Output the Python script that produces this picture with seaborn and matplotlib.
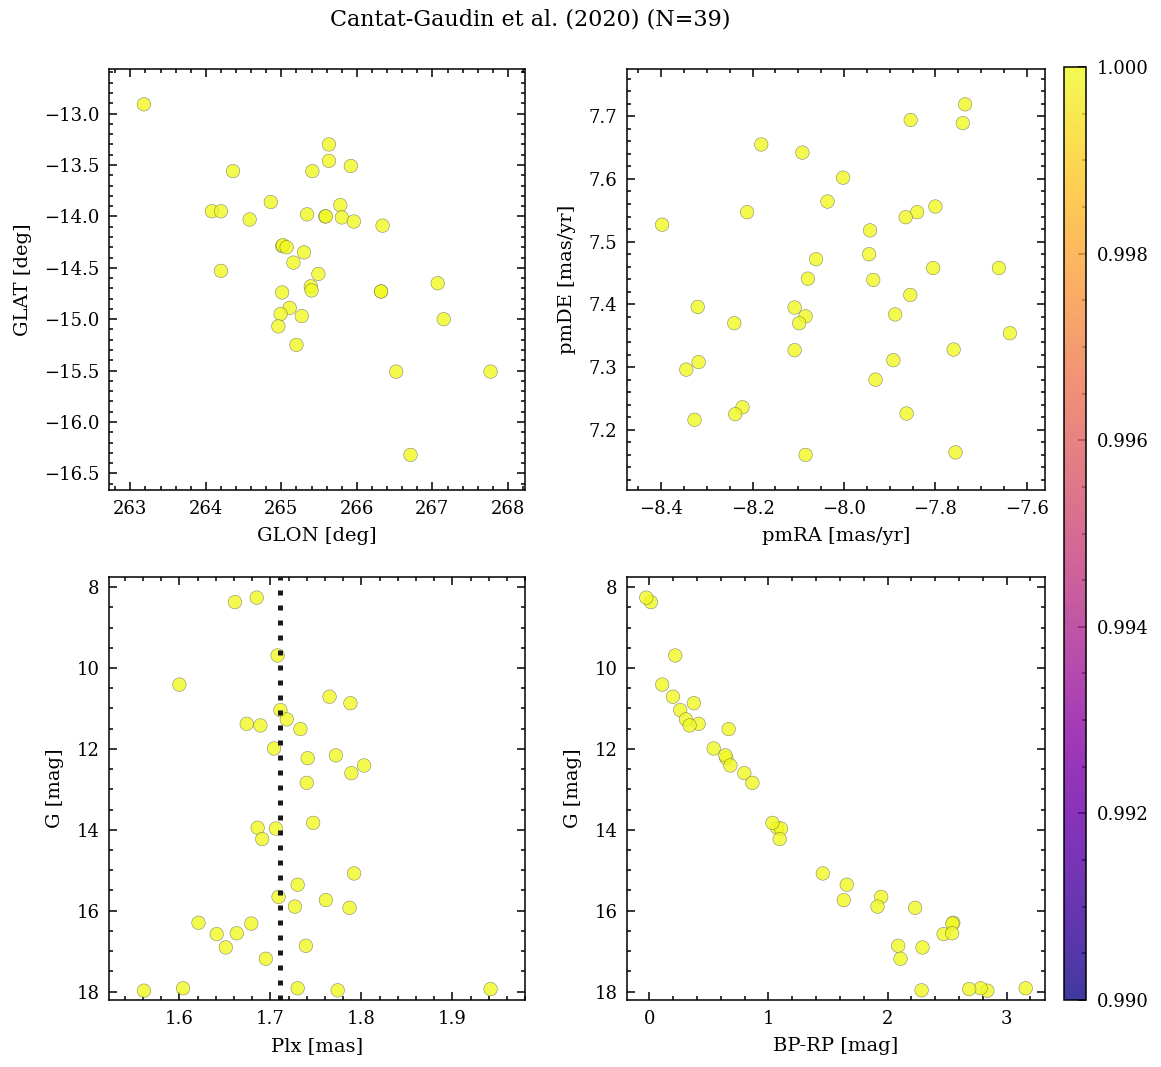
import numpy as np
import pandas as pd
import matplotlib
matplotlib.use("Agg")
import matplotlib.pyplot as plt
import seaborn as sns

# Cantat-Gaudin et al. (2020) members
glon = [263.18, 265.63, 265.63, 265.41, 265.92, 264.36, 264.86, 264.08, 264.20, 264.58,
        265.34, 265.58, 265.59, 265.78, 265.80, 265.96, 266.34, 265.01, 265.02, 265.07,
        265.30, 265.16, 264.20, 265.49, 265.39, 265.40, 265.01, 266.32, 266.32, 267.07,
        265.11, 264.99, 265.27, 264.96, 265.20, 267.15, 266.52, 267.77, 266.71]
glat = [-12.91, -13.30, -13.46, -13.56, -13.51, -13.56, -13.86, -13.95, -13.95, -14.03,
        -13.98, -14.00, -14.00, -13.89, -14.01, -14.05, -14.09, -14.29, -14.28, -14.30,
        -14.35, -14.45, -14.53, -14.56, -14.68, -14.72, -14.74, -14.73, -14.73, -14.65,
        -14.89, -14.95, -14.97, -15.07, -15.25, -15.00, -15.51, -15.51, -16.32]

pmra = [-7.735, -7.854, -7.740, -8.181, -8.091, -8.002, -8.036, -8.212, -8.398, -7.800,
        -7.840, -7.865, -7.943, -7.945, -8.061, -8.079, -7.936, -7.805, -7.661, -7.855,
        -8.320, -8.240, -8.108, -8.084, -8.098, -7.888, -7.637, -8.108, -7.760, -7.892,
        -8.345, -8.318, -7.931, -8.222, -8.238, -8.327, -7.863, -8.084, -7.756]
pmde = [7.719, 7.694, 7.689, 7.655, 7.642, 7.602, 7.564, 7.547, 7.527, 7.556,
        7.547, 7.539, 7.518, 7.480, 7.472, 7.441, 7.439, 7.458, 7.458, 7.415,
        7.396, 7.370, 7.395, 7.381, 7.370, 7.384, 7.354, 7.327, 7.328, 7.311,
        7.296, 7.308, 7.280, 7.236, 7.225, 7.216, 7.226, 7.160, 7.164]

gmag = [8.37, 8.26, 9.69, 10.41, 10.71, 10.87, 11.04, 11.27, 11.38, 11.42,
        11.51, 11.99, 12.23, 12.16, 12.41, 12.60, 12.84, 13.95, 13.97, 14.23,
        13.83, 15.08, 15.36, 15.66, 15.74, 15.90, 15.93, 16.30, 16.32, 16.58,
        16.56, 16.91, 16.87, 17.19, 17.98, 17.92, 17.92, 17.97, 17.94]
plx = [1.661, 1.685, 1.708, 1.600, 1.765, 1.788, 1.711, 1.718, 1.674, 1.689,
       1.733, 1.704, 1.741, 1.772, 1.803, 1.789, 1.740, 1.686, 1.706, 1.691,
       1.747, 1.792, 1.730, 1.709, 1.761, 1.727, 1.787, 1.621, 1.679, 1.641,
       1.663, 1.651, 1.739, 1.695, 1.561, 1.604, 1.730, 1.774, 1.942]
bp_rp = [0.014, -0.025, 0.218, 0.109, 0.199, 0.375, 0.260, 0.308, 0.415, 0.339,
         0.667, 0.541, 0.647, 0.639, 0.681, 0.798, 0.866, 1.073, 1.106, 1.095,
         1.034, 1.457, 1.658, 1.947, 1.633, 1.916, 2.232, 2.552, 2.545, 2.471,
         2.543, 2.294, 2.090, 2.109, 2.838, 3.160, 2.782, 2.286, 2.686]
proba = [1.0, 1.0, 1.0, 1.0, 1.0, 1.0, 1.0, 1.0, 1.0, 1.0,
         1.0, 1.0, 1.0, 1.0, 1.0, 1.0, 1.0, 1.0, 1.0, 1.0,
         1.0, 1.0, 1.0, 1.0, 1.0, 1.0, 1.0, 1.0, 1.0, 1.0,
         1.0, 1.0, 1.0, 1.0, 1.0, 1.0, 1.0, 1.0, 1.0]
plx_line = 1.711
prob_range = (0.99, 1.0)

df = pd.DataFrame({"GLON": glon, "GLAT": glat, "pmRA": pmra, "pmDE": pmde,
                   "Plx": plx, "G": gmag, "BP-RP": bp_rp, "proba": proba})

sns.set_theme(style="white")
plt.rcParams["font.family"] = ["DejaVu Serif"]
plt.rcParams["mathtext.fontset"] = "dejavuserif"
for key in ("text.color", "axes.labelcolor", "xtick.color", "ytick.color", "axes.edgecolor"):
    plt.rcParams[key] = "black"
plt.rcParams["axes.linewidth"] = 1.1
plt.rcParams["axes.xmargin"] = 0.1
plt.rcParams["axes.ymargin"] = 0.1

fig = plt.figure(figsize=(11.61, 10.67), dpi=100)
ax_tl = fig.add_axes([0.0941, 0.5408, 0.3583, 0.3943])
ax_tr = fig.add_axes([0.5403, 0.5408, 0.3595, 0.3943])
ax_bl = fig.add_axes([0.0941, 0.0628, 0.3583, 0.3964])
ax_br = fig.add_axes([0.5403, 0.0628, 0.3595, 0.3964])
cax = fig.add_axes([0.9165, 0.0628, 0.0189, 0.8744])

kw = dict(hue="proba", palette="plasma", hue_norm=prob_range, s=95, alpha=0.8,
          edgecolor="0.35", linewidth=0.35, legend=False)

sns.scatterplot(data=df, x="GLON", y="GLAT", ax=ax_tl, **kw)
ax_tl.set_xlabel("GLON [deg]")
ax_tl.set_ylabel("GLAT [deg]")

sns.scatterplot(data=df, x="pmRA", y="pmDE", ax=ax_tr, **kw)
ax_tr.set_xlabel("pmRA [mas/yr]")
ax_tr.set_ylabel("pmDE [mas/yr]")

sns.scatterplot(data=df, x="Plx", y="G", ax=ax_bl, **kw)
ax_bl.axvline(plx_line, color="k", lw=3.6, ls=(0, (1, 2)))
ax_bl.set_xlabel("Plx [mas]")
ax_bl.set_ylabel("G [mag]")

sns.scatterplot(data=df, x="BP-RP", y="G", ax=ax_br, **kw)
ax_br.margins(x=0.05)
ax_br.set_xlabel("BP-RP [mag]")
ax_br.set_ylabel("G [mag]")

for ax in (ax_bl, ax_br):
    ax.set_ylim(df["G"].max() + 0.23, df["G"].min() - 0.51)

for ax in (ax_tl, ax_tr, ax_bl, ax_br):
    ax.minorticks_on()
    ax.tick_params(which="both", direction="in", top=True, right=True,
                   bottom=True, left=True, labelsize=13, width=1.1, pad=7)
    ax.tick_params(which="major", length=6)
    ax.tick_params(which="minor", length=3)
    ax.xaxis.label.set_size(14)
    ax.yaxis.label.set_size(14)
    ax.xaxis.labelpad = 7
    ax.yaxis.labelpad = 9

sm = plt.cm.ScalarMappable(norm=plt.Normalize(*prob_range), cmap="plasma")
cbar = fig.colorbar(sm, cax=cax, alpha=0.8)
cbar.ax.minorticks_on()
cbar.ax.tick_params(which="both", direction="in", labelsize=13, width=1.1, pad=8)
cbar.ax.tick_params(which="major", length=6)
cbar.ax.tick_params(which="minor", length=3)
cbar.outline.set_linewidth(1.1)

fig.text(0.4565, 0.982, "Cantat-Gaudin et al. (2020) (N=39)", ha="center",
         va="center", fontsize=16)

fig.savefig("out.png", dpi=100)
